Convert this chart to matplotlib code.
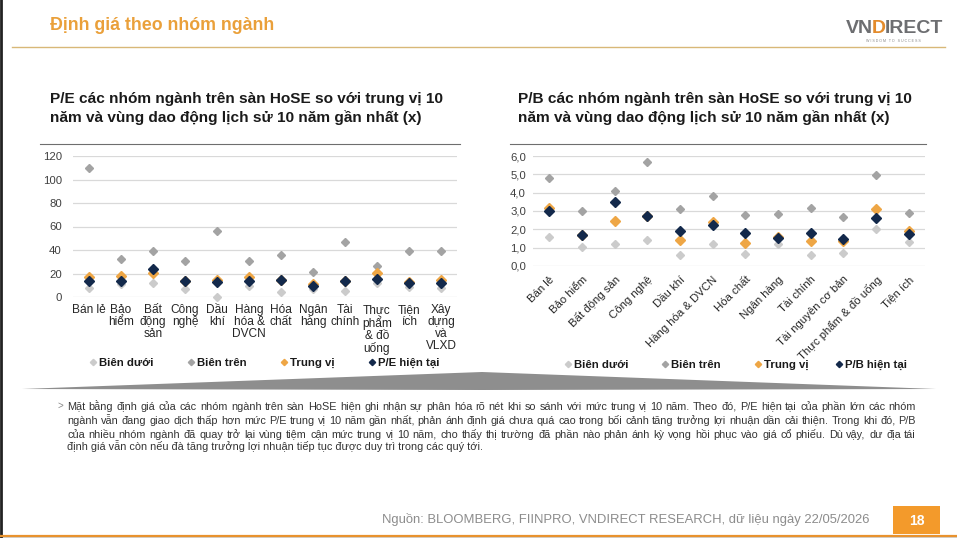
import matplotlib
matplotlib.use("Agg")
import matplotlib.pyplot as plt
from matplotlib.lines import Line2D
from matplotlib.patches import Polygon, Rectangle
import numpy as np

# ---------------- data ----------------
pe_categories = ["Bán lẻ", "Bảo\nhiểm", "Bất\nđộng\nsản", "Công\nnghệ", "Dầu\nkhí",
                 "Hàng\nhóa &\nDVCN", "Hóa\nchất", "Ngân\nhàng", "Tài\nchính",
                 "Thực\nphẩm\n& đồ\nuống", "Tiện\ních", "Xây\ndựng\nvà\nVLXD"]
pe_lower = [7.7, 10.8, 12.2, 6.8, 0.0, 9.4, 4.3, 6.8, 4.8, 12.0, 8.5, 7.7]
pe_upper = [109.5, 32.7, 39.2, 30.7, 56.0, 30.4, 36.0, 21.0, 47.2, 26.7, 39.0, 39.2]
pe_median = [17.0, 17.6, 20.8, 14.0, 14.8, 17.0, 14.2, 11.4, 14.0, 20.8, 12.8, 14.8]
pe_current = [13.6, 14.0, 24.2, 13.6, 13.0, 13.6, 14.8, 9.1, 13.6, 15.0, 12.2, 12.2]
pe_yticks = [0, 20, 40, 60, 80, 100, 120]

pb_categories = ["Bán lẻ", "Bảo hiểm", "Bất động sản", "Công nghệ", "Dầu khí",
                 "Hàng hóa & DVCN", "Hóa chất", "Ngân hàng", "Tài chính",
                 "Tài nguyên cơ bản", "Thực phẩm & đồ uống", "Tiện ích"]
pb_lower = [1.60, 1.05, 1.20, 1.44, 0.60, 1.22, 0.67, 1.22, 0.62, 0.69, 2.02, 1.33]
pb_upper = [4.82, 3.00, 4.09, 5.67, 3.10, 3.82, 2.78, 2.85, 3.16, 2.69, 4.96, 2.89]
pb_median = [3.15, 1.70, 2.45, 2.70, 1.42, 2.42, 1.27, 1.60, 1.38, 1.38, 3.09, 1.93]
pb_current = [3.00, 1.67, 3.47, 2.70, 1.89, 2.24, 1.78, 1.55, 1.82, 1.47, 2.62, 1.76]
pb_yticks = [0, 1, 2, 3, 4, 5, 6]
pb_yticklabels = ["0,0", "1,0", "2,0", "3,0", "4,0", "5,0", "6,0"]

series_names = ["Biên dưới", "Biên trên", "Trung vị"]

# ---------------- style ----------------
C_LOW = "#CBCBCB"
C_UP = "#A3A3A3"
C_MED = "#EEA645"
C_CUR = "#13294B"
C_GRID = "#D9D9D9"
C_TXT = "#333333"
ORANGE = "#F39A2B"

FONT = ["Liberation Sans", "DejaVu Sans"]
plt.rcParams["font.family"] = FONT

W, H = 957, 538
fig = plt.figure(figsize=(W / 100, H / 100), dpi=100)
renderer = fig.canvas.get_renderer()


def fx(px):
    return px / W


def fy(py):
    return 1 - py / H


def box(l, t, r, b):
    return [fx(l), fy(b), fx(r) - fx(l), fy(t) - fy(b)]


def text_w(t):
    return t.get_window_extent(renderer).width


def style_ax(ax):
    for s in ax.spines.values():
        s.set_visible(False)
    ax.tick_params(length=0, colors=C_TXT)
    ax.yaxis.grid(True, color=C_GRID, linewidth=0.9)
    ax.set_axisbelow(True)


def draw_series(ax, lower, upper, median, current):
    x = np.arange(len(lower))
    ax.plot(x, lower, ls="none", marker="D", ms=4.0, color=C_LOW, clip_on=False, zorder=3)
    ax.plot(x, upper, ls="none", marker="D", ms=4.0, color=C_UP, clip_on=False, zorder=3)
    ax.plot(x, median, ls="none", marker="D", ms=5, color=C_MED, clip_on=False, zorder=4)
    ax.plot(x, current, ls="none", marker="D", ms=5.5, color=C_CUR, clip_on=False, zorder=5)


# ---------------- P/E chart ----------------
ax1 = fig.add_axes(box(73, 156, 457, 297))
style_ax(ax1)
draw_series(ax1, pe_lower, pe_upper, pe_median, pe_current)
ax1.set_xlim(-0.5, len(pe_categories) - 0.5)
ax1.set_ylim(0, 120)
ax1.set_yticks(pe_yticks)
ax1.set_yticklabels([str(v) for v in pe_yticks], fontsize=8.2, color="#404040")
ax1.tick_params(axis="y", pad=8)
ax1.set_xticks(np.arange(len(pe_categories)))
ax1.set_xticklabels(pe_categories, fontsize=8.6, color="#262626", linespacing=1.0, va="top")
ax1.tick_params(axis="x", pad=5)

# ---------------- P/B chart ----------------
ax2 = fig.add_axes(box(533, 156, 925, 266))
style_ax(ax2)
draw_series(ax2, pb_lower, pb_upper, pb_median, pb_current)
ax2.set_xlim(-0.5, len(pb_categories) - 0.5)
ax2.set_ylim(0, 6)
ax2.set_yticks(pb_yticks)
ax2.set_yticklabels(pb_yticklabels, fontsize=8.2, color="#404040")
ax2.tick_params(axis="y", pad=5)
ax2.set_xticks(np.arange(len(pb_categories)))
ax2.set_xticklabels(pb_categories, fontsize=8.2, color="#262626", rotation=45,
                    ha="right", rotation_mode="anchor")
ax2.tick_params(axis="x", pad=6)

# top rules above charts
fig.add_artist(Line2D([fx(40), fx(460)], [fy(144), fy(144)], color="#6E6E6E", lw=0.8))
fig.add_artist(Line2D([fx(510), fx(926)], [fy(144), fy(144)], color="#6E6E6E", lw=0.8))

# chart titles
TFS = 11.1
for xx, l1 in [(50, "P/E các nhóm ngành trên sàn HoSE so với trung vị 10"),
               (518, "P/B các nhóm ngành trên sàn HoSE so với trung vị 10")]:
    fig.text(fx(xx), fy(103), l1, weight="bold", fontsize=TFS, color="#1a1a1a", va="baseline")
    fig.text(fx(xx), fy(122), "năm và vùng dao động lịch sử 10 năm gần nhất (x)",
             weight="bold", fontsize=TFS, color="#1a1a1a", va="baseline")


# legends (manual)
def legend_item(xm, y, color, label, ms):
    fig.add_artist(Line2D([fx(xm)], [fy(y)], ls="none", marker="D", ms=ms, color=color))
    fig.text(fx(xm + 6), fy(y + 4), label, weight="bold", fontsize=8.2,
             color="#1a1a1a", va="baseline")


leg_colors = [C_LOW, C_UP, C_MED]
for xm, c, lab in zip([93, 191, 284], leg_colors, series_names):
    legend_item(xm, 362, c, lab, 3.2)
legend_item(372, 362, C_CUR, "P/E hiện tại", 3.2)
for xm, c, lab in zip([568, 665, 758], leg_colors, series_names):
    legend_item(xm, 364, c, lab, 3.2)
legend_item(839, 364, C_CUR, "P/B hiện tại", 3.2)

# divider wedge
fig.add_artist(Polygon([(fx(22), fy(389)), (fx(482), fy(372)), (fx(936), fy(389)),
                        (fx(482), fy(390))], closed=True, facecolor="#8E8E8E",
                       edgecolor="none", transform=fig.transFigure))

# header
fig.text(fx(50), fy(30), "Định giá theo nhóm ngành", weight="bold",
         fontsize=12.8, color="#EAA03A", va="baseline")
fig.add_artist(Line2D([fx(12), fx(945)], [fy(47), fy(47)], color="#D8B878", lw=1.0))
xc = 846
for part, col in [("VN", "#6D6E71"), ("D", "#E38B2C"), ("IRECT", "#6D6E71")]:
    t = fig.text(fx(xc), fy(33), part, weight="bold", fontsize=14, color=col, va="baseline")
    xc += text_w(t) - 1
fig.text(fx(893), fy(41), "W I S D O M   T O   S U C C E S S", fontsize=2.6,
         color="#888888", va="center", ha="center")

# left border of slide
fig.add_artist(Line2D([fx(1), fx(1)], [0, 1], color="#222222", lw=2))

# paragraph (justified)
para = [
    "Mặt bằng định giá của các nhóm ngành trên sàn HoSE hiện ghi nhận sự phân hóa rõ nét khi so sánh với mức trung vị 10 năm. Theo đó, P/E hiện tại của phần lớn các nhóm",
    "ngành vẫn đang giao dịch thấp hơn mức P/E trung vị 10 năm gần nhất, phản ánh định giá chưa quá cao trong bối cảnh tăng trưởng lợi nhuận dần cải thiện. Trong khi đó, P/B",
    "của nhiều nhóm ngành đã quay trở lại vùng tiệm cận mức trung vị 10 năm, cho thấy thị trường đã phần nào phản ánh kỳ vọng hồi phục vào giá cổ phiếu. Dù vậy, dư địa tái",
    "định giá vẫn còn nếu đà tăng trưởng lợi nhuận tiếp tục được duy trì trong các quý tới.",
]
x0, x1 = 67, 916
ys = [409.5, 423.5, 437.5, 450.5]
probe = fig.text(0, 0, para[0], fontsize=10)
PFS = 10 * (x1 - x0) / text_w(probe) * 0.985
probe.remove()
fig.text(fx(57), fy(409), ">", fontsize=7, color="#8a8a8a", va="baseline")
for i, (line, y) in enumerate(zip(para, ys)):
    words = line.split(" ")
    if i == len(para) - 1:
        fig.text(fx(x0), fy(y), line, fontsize=PFS, color=C_TXT, va="baseline")
        continue
    tobjs = [fig.text(0, fy(y), w, fontsize=PFS, color=C_TXT, va="baseline") for w in words]
    widths = [text_w(t) for t in tobjs]
    gap = (x1 - x0 - sum(widths)) / (len(words) - 1)
    xc = x0
    for t, w in zip(tobjs, widths):
        t.set_x(fx(xc))
        xc += w + gap

# footer
fig.text(fx(870), fy(523), "Nguồn: BLOOMBERG, FIINPRO, VNDIRECT RESEARCH, dữ liệu ngày 22/05/2026",
         fontsize=9.4, color="#8C8C8C", va="baseline", ha="right")
fig.add_artist(Rectangle((fx(893), fy(534)), fx(940) - fx(893), fy(506) - fy(534),
                         facecolor=ORANGE, edgecolor="none", transform=fig.transFigure))
fig.text(fx(916.5), fy(521), "18", fontsize=10, weight="bold", color="white",
         va="center", ha="center")
fig.add_artist(Line2D([0, 1], [fy(535.5), fy(535.5)], color="#E8922E", lw=1.6))
fig.add_artist(Line2D([0, 1], [fy(537.5), fy(537.5)], color="#3a2a1a", lw=1.0))

fig.savefig("out.png", dpi=100, facecolor="white")
